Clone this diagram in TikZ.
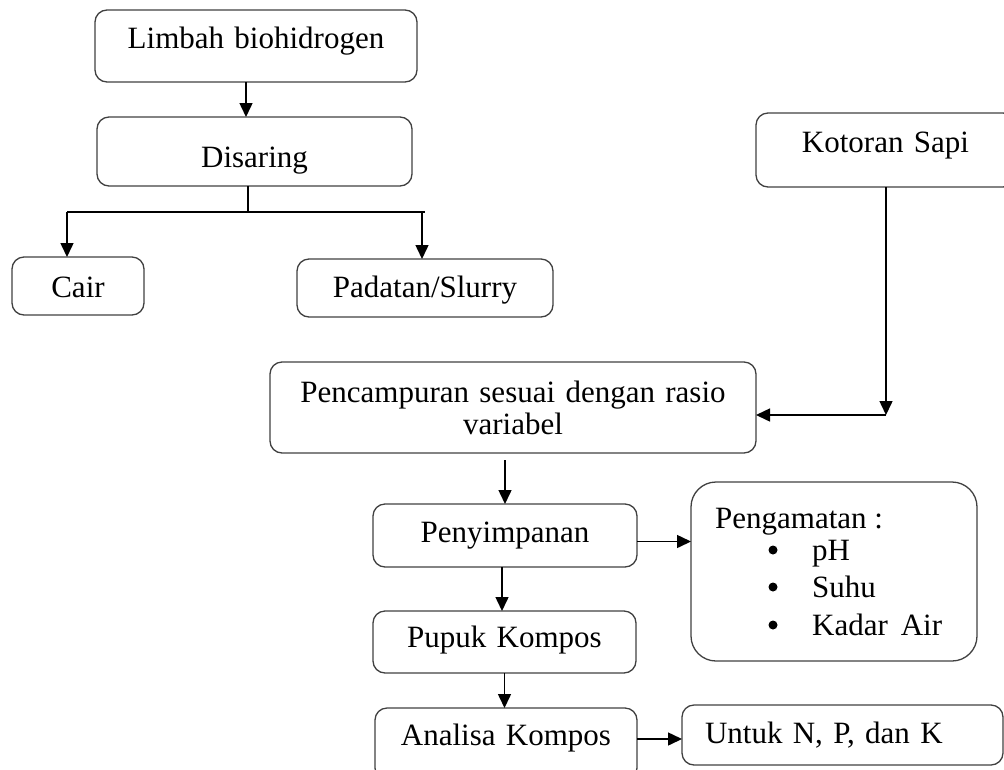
\documentclass[tikz,border=0pt]{standalone}
\usepackage{fontspec}
\setmainfont{Liberation Serif}
\usetikzlibrary{arrows.meta,calc}
\definecolor{boxc}{HTML}{404040}
\begin{document}
\begin{tikzpicture}[x=1pt,y=-1pt,
  every node/.style={font=\fontsize{31pt}{32pt}\selectfont},
  box/.style={draw=boxc, line width=1.3pt, rounded corners=12pt, inner sep=0pt,
    outer sep=0pt, align=center, anchor=north west},
  arr/.style={draw=black, line width=1.5pt, -{Triangle[length=14pt,width=13pt]}},
  ln/.style={draw=black, line width=1.5pt},
  lbl/.style={anchor=base west, inner sep=0pt},
  bul/.style={circle, fill=black, inner sep=0pt, minimum size=9pt}]
\useasboundingbox (0,0) rectangle (1004,769);

\node[box, text width=322pt, text height=38pt, text depth=34pt] (limbah) at (95,10) {Limbah biohidrogen};
\node[box, text width=315pt, text height=50pt, text depth=19pt] (disaring) at (97,117) {Disaring};
\node[box, text width=132pt, text height=40pt, text depth=18pt] (cair) at (12,257) {Cair};
\node[box, text width=256pt, text height=38pt, text depth=20pt] (padatan) at (297,259) {Padatan/Slurry};
\node[box, text width=259pt, text height=39pt, text depth=35pt] (kotoran) at (756,113) {Kotoran Sapi};
\node[box, text width=486pt, text height=40pt, text depth=51pt] (pencampuran) at (270,362) {Pencampuran sesuai dengan rasio\\variabel};
\node[box, text width=264pt, text height=38pt, text depth=25pt] (penyimpanan) at (373,504) {Penyimpanan};
\node[box, text width=263pt, text height=36pt, text depth=26pt] (pupuk) at (373,611) {Pupuk Kompos};
\node[box, text width=262pt, text height=37pt, text depth=35pt] (analisa) at (375,708) {Analisa Kompos};
\node[box, align=left, text width=321pt, text height=38pt, text depth=22pt] (untuk) at (682,705) {\hspace*{23pt}Untuk N, P, dan K};

\node[box, rounded corners=25pt, minimum width=286pt, minimum height=179pt] (pengamatan) at (691,482) {};
\node[lbl] (pgt) at (715,528) {Pengamatan :};
\node[bul] (b1) at (773,550) {};
\node[bul] (b2) at (773,587) {};
\node[bul] (b3) at (773,625) {};
\node[lbl] (i1) at (812,560) {pH};
\node[lbl] (i2) at (812,597) {Suhu};
\node[lbl] (i3) at (812,635) {Kadar\, Air};

% connectors
\draw[arr] ($(limbah.south)+(-10,0)$) coordinate (la) -- (la |- disaring.north);
\coordinate (split) at (248,212);
\coordinate (sl) at (67,212);
\coordinate (sr) at (425,212);
\coordinate (sp) at (422,212);
\draw[ln] (split |- disaring.south) -- (split);
\draw[ln] (sl) -- (sr);
\draw[arr] (sl) -- (sl |- cair.north);
\draw[arr] (sp) -- (sp |- padatan.north);

\coordinate (corner) at (886,415);
\draw[arr] (corner |- kotoran.south) -- (corner);
\draw[arr] (corner) -- (corner -| pencampuran.east);

\draw[arr] ($(penyimpanan.north |- pencampuran.south)+(0,7)$) -- (penyimpanan.north);
\draw[arr] ($(penyimpanan.east)+(0,6)$) coordinate (pa) -- (pa -| pengamatan.west);
\draw[arr] ($(penyimpanan.south)+(-3,0)$) coordinate (pb) -- (pb |- pupuk.north);
\draw[arr] (pupuk.south) -- (pupuk.south |- analisa.north);
\draw[arr] ($(analisa.east)+(0,-5)$) coordinate (ua) -- (ua -| untuk.west);
\end{tikzpicture}
\end{document}
